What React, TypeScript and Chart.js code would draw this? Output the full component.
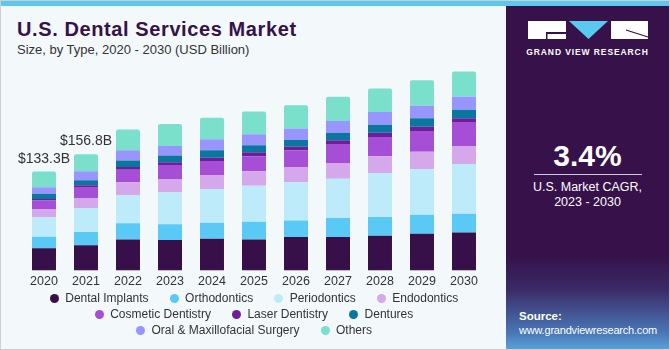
import React, { useEffect, useRef } from "react";
import { Chart, registerables } from "chart.js";

Chart.register(...registerables);

const years = ["2020", "2021", "2022", "2023", "2024", "2025", "2026", "2027", "2028", "2029", "2030"];
const dentalImplants = [30, 34.1, 41.8, 41.2, 42.7, 41.9, 45, 45, 46.8, 49.5, 51.3];
const orthodontics = [15.4, 17.9, 22, 21.2, 21.6, 23.7, 22.5, 25.6, 25.2, 25.6, 25.1];
const periodontics = [26.2, 32.3, 37.7, 43.5, 45.4, 48.5, 51.6, 53, 59.3, 61.6, 67];
const endodontics = [11.3, 13.5, 17.5, 17.5, 18.9, 19.8, 20.2, 21.2, 22.5, 23.3, 24.3];
const cosmeticDentistry = [11.3, 14.8, 16.6, 18.9, 18.9, 20.2, 22.9, 25.6, 26, 27.9, 32.3];
const laserDentistry = [2.3, 2.3, 4, 3.6, 4.4, 5.4, 4.4, 5, 5.8, 5.8, 5];
const dentures = [6.8, 6.7, 8.6, 9, 10, 9.4, 9.4, 9.8, 10.8, 11.3, 11.6];
const oralSurgery = [8.9, 12.1, 13.9, 12.9, 14.8, 14.8, 15.4, 16.2, 17.1, 17, 17.5];
const others = [21.1, 23.1, 27.9, 29.6, 29.1, 30.6, 31.4, 32.7, 31.9, 34.2, 34.2];
const totalLabels = ["$133.3B", "$156.8B", "", "", "", "", "", "", "", "", ""];

const seriesNames = [
  "Dental Implants",
  "Orthodontics",
  "Periodontics",
  "Endodontics",
  "Cosmetic Dentistry",
  "Laser Dentistry",
  "Dentures",
  "Oral & Maxillofacial Surgery",
  "Others",
];
const seriesColors = [
  "#37104A",
  "#5BC9F5",
  "#BDEBF9",
  "#D5A8EC",
  "#A64FD6",
  "#6B1F9A",
  "#0A779E",
  "#9896FE",
  "#7BE0CB",
];
const seriesValues = [
  dentalImplants,
  orthodontics,
  periodontics,
  endodontics,
  cosmeticDentistry,
  laserDentistry,
  dentures,
  oralSurgery,
  others,
];
const legendRows = [
  [0, 1, 2, 3],
  [4, 5, 6],
  [7, 8],
];

const FONT = "'Liberation Sans', Arial, sans-serif";

const totalsPlugin = {
  id: "totals",
  afterDatasetsDraw(chart: any) {
    const ctx = chart.ctx;
    const meta = chart.getDatasetMeta(chart.data.datasets.length - 1);
    ctx.save();
    ctx.font = `14px ${FONT}`;
    ctx.fillStyle = "#333333";
    ctx.textAlign = "center";
    ctx.textBaseline = "alphabetic";
    meta.data.forEach((bar: any, i: number) => {
      const t = totalLabels[i];
      if (t) ctx.fillText(t, bar.x, bar.y - 9);
    });
    ctx.restore();
  },
};

function ChartCanvas() {
  const ref = useRef<HTMLCanvasElement>(null);
  useEffect(() => {
    if (!ref.current) return;
    const chart = new Chart(ref.current, {
      type: "bar",
      data: {
        labels: years,
        datasets: seriesNames.map((name, i) => ({
          label: name,
          data: seriesValues[i],
          backgroundColor: seriesColors[i],
          borderWidth: 0,
          borderRadius: i === seriesNames.length - 1 ? { topLeft: 2, topRight: 2, bottomLeft: 0, bottomRight: 0 } : 0,
          borderSkipped: false as any,
          barPercentage: 0.571,
          categoryPercentage: 1,
        })),
      },
      options: {
        animation: false,
        responsive: false,
        layout: { padding: { left: 22, right: 16, top: 9.5, bottom: 1.5 } },
        plugins: { legend: { display: false }, tooltip: { enabled: false } },
        scales: {
          x: {
            stacked: true,
            grid: { display: false, drawTicks: false },
            border: { display: false },
            ticks: { color: "#333333", font: { family: FONT, size: 12.5 }, padding: 4 },
          },
          y: { stacked: true, display: false, min: 0, max: 269.5 },
        },
      },
      plugins: [totalsPlugin],
    });
    return () => chart.destroy();
  }, []);
  return <canvas ref={ref} width={500} height={234} style={{ position: "absolute", left: 0, top: 60 }} />;
}

export default function App() {
  return (
    <div
      style={{
        position: "fixed",
        left: 0,
        top: 0,
        width: 670,
        height: 350,
        background: "#F3F8FB",
        fontFamily: FONT,
        overflow: "hidden",
        boxSizing: "border-box",
        border: "1px solid #cfcfcf",
      }}
    >
      <div style={{ position: "absolute", left: 0, top: 0, width: 670, height: 5, background: "#5BC8F0" }} />
      <div
        style={{
          position: "absolute",
          left: 16,
          top: 18,
          fontSize: 20,
          lineHeight: "20px",
          fontWeight: 700,
          letterSpacing: 0.6,
          color: "#35124A",
          whiteSpace: "nowrap",
        }}
      >
        U.S. Dental Services Market
      </div>
      <div
        style={{
          position: "absolute",
          left: 16,
          top: 42.3,
          fontSize: 13,
          lineHeight: "13px",
          color: "#333333",
          whiteSpace: "nowrap",
        }}
      >
        Size, by Type, 2020 - 2030 (USD Billion)
      </div>
      <ChartCanvas />
      <div style={{ position: "absolute", left: 0, top: 289, width: 506 }}>
        {legendRows.map((row, r) => (
          <div
            key={r}
            style={{ display: "flex", justifyContent: "center", gap: 21, height: 16, alignItems: "center" }}
          >
            {row.map((idx) => (
              <div key={idx} style={{ display: "flex", alignItems: "center", gap: 6.5 }}>
                <span
                  style={{ width: 9, height: 9, borderRadius: "50%", background: seriesColors[idx], display: "inline-block" }}
                />
                <span style={{ fontSize: 12, color: "#333333", whiteSpace: "nowrap" }}>{seriesNames[idx]}</span>
              </div>
            ))}
          </div>
        ))}
      </div>
      <div
        style={{
          position: "absolute",
          left: 505,
          top: 5,
          width: 163,
          height: 345,
          background:
            "linear-gradient(to bottom, #36114A 0%, #36114A 72%, #3a2a66 82%, #4a78b8 95%, #5aa8dc 100%)",
        }}
      >
        <svg width={163} height={40} style={{ position: "absolute", left: 0, top: 0 }}>
          <rect x={22} y={15} width={38} height={18} fill="#ffffff" />
          <rect x={40} y={26} width={20} height={2} fill="#36114A" />
          <rect x={40} y={26} width={1.5} height={7} fill="#36114A" />
          <polygon points="63,15 102,15 82.5,33" fill="#5BC8F0" />
          <rect x={105} y={15} width={37} height={18} fill="#ffffff" />
          <line x1={120} y1={24} x2={142} y2={31} stroke="#36114A" strokeWidth={1.2} />
        </svg>
        <div
          style={{
            position: "absolute",
            left: 0,
            width: 163,
            top: 41,
            textAlign: "center",
            color: "#ffffff",
            fontSize: 8.5,
            fontWeight: 700,
            letterSpacing: 0.9,
            whiteSpace: "nowrap",
          }}
        >
          GRAND VIEW RESEARCH
        </div>
        <div
          style={{
            position: "absolute",
            left: 0,
            width: 163,
            top: 135.3,
            textAlign: "center",
            color: "#ffffff",
            fontSize: 30,
            lineHeight: "30px",
            fontWeight: 700,
          }}
        >
          3.4%
        </div>
        <div style={{ position: "absolute", left: 28, top: 168, width: 108, height: 1, background: "#cfc6d8" }} />
        <div
          style={{
            position: "absolute",
            left: 0,
            width: 163,
            top: 174.4,
            textAlign: "center",
            color: "#ffffff",
            fontSize: 12.5,
            lineHeight: "15px",
          }}
        >
          U.S. Market CAGR,
          <br />
          2023 - 2030
        </div>
        <div
          style={{
            position: "absolute",
            left: 13,
            top: 304,
            color: "#ffffff",
            fontSize: 11.5,
            lineHeight: "13px",
            fontWeight: 700,
          }}
        >
          Source:
        </div>
        <div
          style={{
            position: "absolute",
            left: 13,
            top: 318,
            color: "#ffffff",
            fontSize: 11,
            lineHeight: "13px",
            letterSpacing: -0.2,
            whiteSpace: "nowrap",
          }}
        >
          www.grandviewresearch.com
        </div>
      </div>
    </div>
  );
}
